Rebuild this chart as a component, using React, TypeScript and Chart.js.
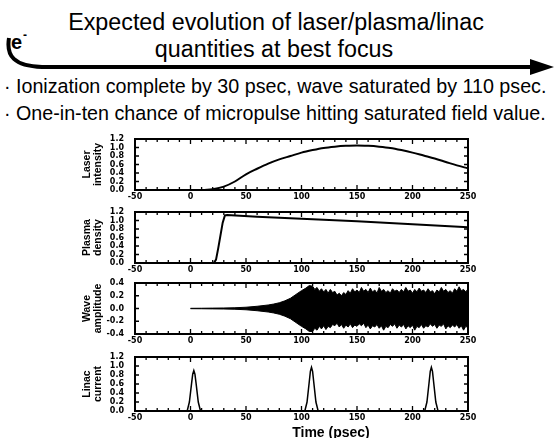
import React, { useEffect, useRef } from "react";
import { Chart, registerables } from "chart.js";
Chart.register(...registerables);

// ---------- data ----------
const timeTicks = [-50, 0, 50, 100, 150, 200, 250];
const unitTicks = [0, 0.2, 0.4, 0.6, 0.8, 1.0, 1.2];
const waveTicks = [-0.4, -0.2, 0, 0.2, 0.4];

const laserTime = [-50, 0, 10, 15, 20, 30, 40, 50, 60, 70, 80, 90, 100, 110, 120, 130, 140, 150, 160, 170, 180, 190, 200, 210, 220, 230, 240, 250];
const laserIntensity = [0, 0, 0, 0.005, 0.02, 0.08, 0.2, 0.37, 0.5, 0.62, 0.72, 0.8, 0.88, 0.94, 0.99, 1.02, 1.04, 1.05, 1.04, 1.02, 0.99, 0.94, 0.88, 0.81, 0.74, 0.66, 0.58, 0.51];

const plasmaTime = [-50, 21, 23, 25, 27, 29, 31, 33, 60, 100, 150, 200, 250];
const plasmaDensity = [0, 0, 0.08, 0.35, 0.65, 0.95, 1.12, 1.13, 1.09, 1.04, 0.98, 0.91, 0.84];

const waveTime = [0, 10, 20, 30, 40, 50, 60, 70, 75, 80, 85, 90, 95, 100, 104, 107,
  110, 112, 114, 116, 118, 120, 122, 124, 126, 128, 130, 132, 134, 136, 138, 140, 142, 144, 146, 148,
  150, 152, 154, 156, 158, 160, 162, 164, 166, 168, 170, 172, 174, 176, 178, 180, 182, 184, 186, 188,
  190, 192, 194, 196, 198, 200, 202, 204, 206, 208, 210, 212, 214, 216, 218, 220, 222, 224, 226, 228,
  230, 232, 234, 236, 238, 240, 242, 244, 246, 248, 250];
const waveUpper = [0.003, 0.004, 0.006, 0.008, 0.012, 0.02, 0.035, 0.055, 0.07, 0.09, 0.12, 0.16, 0.22, 0.28, 0.32, 0.36,
  0.35, 0.3, 0.33, 0.27, 0.31, 0.26, 0.3, 0.24, 0.3, 0.25, 0.27, 0.21, 0.24, 0.2, 0.25, 0.22, 0.28, 0.24, 0.31, 0.26,
  0.29, 0.25, 0.33, 0.27, 0.3, 0.25, 0.32, 0.26, 0.29, 0.24, 0.33, 0.27, 0.3, 0.25, 0.28, 0.24, 0.31, 0.27, 0.29, 0.25,
  0.3, 0.26, 0.33, 0.27, 0.29, 0.24, 0.3, 0.26, 0.32, 0.27, 0.29, 0.25, 0.31, 0.26, 0.28, 0.23, 0.29, 0.26, 0.33, 0.27,
  0.3, 0.25, 0.28, 0.24, 0.31, 0.27, 0.34, 0.28, 0.3, 0.26, 0.31];
const waveLower = [-0.003, -0.004, -0.006, -0.008, -0.012, -0.02, -0.035, -0.055, -0.07, -0.09, -0.12, -0.16, -0.22, -0.28, -0.32, -0.36,
  -0.36, -0.31, -0.34, -0.28, -0.32, -0.27, -0.33, -0.28, -0.3, -0.25, -0.27, -0.23, -0.29, -0.25, -0.31, -0.26, -0.29, -0.24, -0.3, -0.26,
  -0.28, -0.24, -0.27, -0.23, -0.3, -0.26, -0.32, -0.27, -0.29, -0.25, -0.31, -0.27, -0.34, -0.28, -0.3, -0.25, -0.28, -0.24, -0.31, -0.26,
  -0.29, -0.25, -0.32, -0.27, -0.3, -0.26, -0.34, -0.28, -0.3, -0.25, -0.31, -0.27, -0.29, -0.24, -0.28, -0.25, -0.31, -0.26, -0.28, -0.24,
  -0.32, -0.27, -0.3, -0.26, -0.29, -0.25, -0.31, -0.27, -0.34, -0.28, -0.3];

const linacTime = [-50, -3, -1, 1, 2, 3, 4, 5, 7, 9, 103, 105, 107, 108, 109, 110, 111, 113, 115, 211, 213, 215, 216, 217, 218, 219, 221, 223, 250];
const linacCurrent = [0, 0, 0.2, 0.62, 0.82, 0.9, 0.82, 0.62, 0.2, 0, 0, 0.2, 0.65, 0.88, 0.97, 0.88, 0.65, 0.2, 0, 0, 0.2, 0.65, 0.88, 0.97, 0.88, 0.65, 0.2, 0, 0];

// ---------- styling ----------
const FONT = "'Liberation Sans', Arial, Helvetica, sans-serif";
const TICK_FONT = "'DejaVu Sans', 'Liberation Sans', Arial, sans-serif";
Chart.defaults.font.family = FONT;

const pts = (xs: number[], ys: number[]) => xs.map((x, i) => ({ x, y: ys[i] }));

const framePlugin = {
  id: "frame",
  afterDatasetsDraw(chart: any) {
    const { ctx, chartArea, scales } = chart;
    const { left, right, top, bottom } = chartArea;
    const x = scales.x, y = scales.y;
    ctx.save();
    ctx.strokeStyle = "#000";
    ctx.lineWidth = 1.3;
    ctx.beginPath();
    for (let t = -50; t <= 250; t += 10) {
      const px = x.getPixelForValue(t);
      const len = t % 50 === 0 ? 5 : 3;
      ctx.moveTo(px, bottom); ctx.lineTo(px, bottom - len);
      ctx.moveTo(px, top); ctx.lineTo(px, top + len);
    }
    y.ticks.forEach((tk: any) => {
      const py = y.getPixelForValue(tk.value);
      ctx.moveTo(left, py); ctx.lineTo(left + 4, py);
      ctx.moveTo(right, py); ctx.lineTo(right - 4, py);
    });
    ctx.stroke();
    ctx.lineWidth = 2;
    ctx.strokeRect(left, top, right - left, bottom - top);
    ctx.restore();
  },
};

type PanelCfg = {
  top: number;
  bottom: number;
  yMin: number;
  yMax: number;
  yTicks: number[];
  title: string[];
  datasets: any[];
};

const CANVAS_LEFT = 60;
const CANVAS_W = 420;
const PAD_TOP = 6;
const X_AXIS_H = 16;

const panels: PanelCfg[] = [
  {
    top: 139, bottom: 190, yMin: 0, yMax: 1.2, yTicks: unitTicks, title: ["Laser", "intensity"],
    datasets: [{ data: pts(laserTime, laserIntensity), borderColor: "#000", borderWidth: 2, cubicInterpolationMode: "monotone", fill: false }],
  },
  {
    top: 212, bottom: 263, yMin: 0, yMax: 1.2, yTicks: unitTicks, title: ["Plasma", "density"],
    datasets: [{ data: pts(plasmaTime, plasmaDensity), borderColor: "#000", borderWidth: 2, tension: 0, fill: false }],
  },
  {
    top: 283, bottom: 334, yMin: -0.4, yMax: 0.4, yTicks: waveTicks, title: ["Wave", "amplitude"],
    datasets: [
      { data: pts(waveTime, waveUpper), borderColor: "#000", borderWidth: 1, backgroundColor: "#000", fill: "+1", tension: 0 },
      { data: pts(waveTime, waveLower), borderColor: "#000", borderWidth: 1, fill: false, tension: 0 },
    ],
  },
  {
    top: 357, bottom: 411, yMin: 0, yMax: 1.2, yTicks: unitTicks, title: ["Linac", "current"],
    datasets: [{ data: pts(linacTime, linacCurrent), borderColor: "#000", borderWidth: 1.5, tension: 0, fill: false }],
  },
];

function Panel({ cfg }: { cfg: PanelCfg }) {
  const ref = useRef<HTMLCanvasElement>(null);
  const h = PAD_TOP + (cfg.bottom - cfg.top) + X_AXIS_H;
  useEffect(() => {
    const chart = new Chart(ref.current as HTMLCanvasElement, {
      type: "line",
      data: { datasets: cfg.datasets },
      options: {
        animation: false,
        responsive: false,
        maintainAspectRatio: false,
        layout: { padding: { left: 0, right: CANVAS_W - (468 - CANVAS_LEFT), top: PAD_TOP, bottom: 0 } },
        plugins: { legend: { display: false }, tooltip: { enabled: false } },
        elements: { point: { radius: 0 } },
        scales: {
          x: {
            type: "linear",
            min: -50,
            max: 250,
            afterBuildTicks: (s: any) => { s.ticks = timeTicks.map((v) => ({ value: v })); },
            afterFit: (s: any) => { s.height = X_AXIS_H; s.paddingLeft = 0; s.paddingRight = 0; },
            grid: { display: false, drawTicks: false },
            border: { display: false },
            ticks: { color: "#000", padding: 3, autoSkip: false, maxRotation: 0, font: { family: TICK_FONT, size: 8, weight: "bold", lineHeight: 1 } },
          },
          y: {
            type: "linear",
            min: cfg.yMin,
            max: cfg.yMax,
            afterBuildTicks: (s: any) => { s.ticks = cfg.yTicks.map((v) => ({ value: v })); },
            afterFit: (s: any) => { s.width = 135 - CANVAS_LEFT; s.paddingTop = 0; s.paddingBottom = 0; },
            grid: { display: false, drawTicks: false },
            border: { display: false },
            ticks: {
              color: "#000", padding: 11, autoSkip: false,
              font: { family: TICK_FONT, size: 8, weight: "bold", lineHeight: 1 },
              callback: (v: any) => Number(v).toFixed(1),
            },
            title: {
              display: true,
              text: cfg.title,
              color: "#000",
              font: { size: 10.5, weight: "bold", lineHeight: 1.05 },
              padding: { top: 22, bottom: 0 },
            },
          },
        },
      } as any,
      plugins: [framePlugin],
    } as any);
    return () => chart.destroy();
  }, []);
  return (
    <canvas
      ref={ref}
      width={CANVAS_W}
      height={h}
      style={{ position: "absolute", left: CANVAS_LEFT, top: cfg.top - PAD_TOP, width: CANVAS_W, height: h }}
    />
  );
}

const titleLines = ["Expected evolution of laser/plasma/linac", "quantities at best focus"];
const bullets = [
  "Ionization complete by 30 psec, wave saturated by 110 psec.",
  "One-in-ten chance of micropulse hitting saturated field value.",
];
const xAxisTitle = "Time (psec)";

export default function App() {
  const txt = (extra: React.CSSProperties): React.CSSProperties => ({
    position: "absolute",
    whiteSpace: "nowrap",
    fontFamily: FONT,
    color: "#000",
    ...extra,
  });
  return (
    <div style={{ position: "absolute", left: 0, top: 0, width: 554, height: 438, background: "#fff", overflow: "hidden" }}>
      <div style={txt({ left: 0, width: 552, textAlign: "center", top: 10, fontSize: 23.3, lineHeight: "24px" })}>{titleLines[0]}</div>
      <div style={txt({ left: 0, width: 548, textAlign: "center", top: 37, fontSize: 23.3, lineHeight: "24px" })}>{titleLines[1]}</div>
      <div style={txt({ left: 11, top: 32, fontSize: 20, lineHeight: "20px", fontWeight: "bold" })}>e</div>
      <div style={txt({ left: 23, top: 29, fontSize: 12, lineHeight: "12px", fontWeight: "bold" })}>-</div>
      <svg width={554} height={438} style={{ position: "absolute", left: 0, top: 0 }}>
        <path d="M 9 38 C 6 56, 14 66, 42 67 L 536 67" fill="none" stroke="#000" strokeWidth={4} />
        <polygon points="530,59 554,67 530,75" fill="#000" />
      </svg>
      {bullets.map((b, i) => (
        <React.Fragment key={i}>
          <div style={txt({ left: 4, top: 77 + i * 27, fontSize: 19.7, lineHeight: "19px" })}>·</div>
          <div style={txt({ left: 16, top: 77 + i * 27, fontSize: 19.7, lineHeight: "19px" })}>{b}</div>
        </React.Fragment>
      ))}
      {panels.map((p, i) => (
        <Panel key={i} cfg={p} />
      ))}
      <div style={txt({ left: 331 - 50, width: 100, textAlign: "center", top: 424.5, fontSize: 14, lineHeight: "14px", fontWeight: "bold" })}>{xAxisTitle}</div>
    </div>
  );
}
